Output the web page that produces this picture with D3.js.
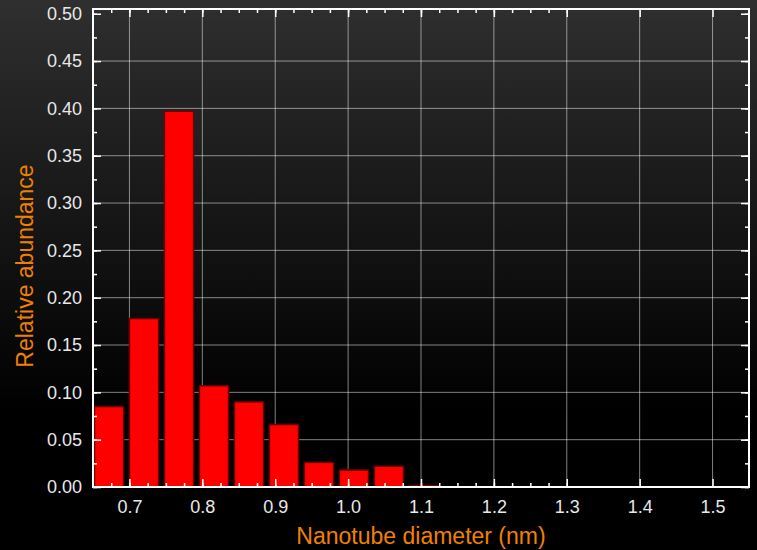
<!DOCTYPE html>
<html>
<head>
<meta charset="utf-8">
<script src="https://cdn.jsdelivr.net/npm/d3@7"></script>
<style>
  html, body { margin: 0; padding: 0; background: #000; }
  svg { display: block; }
  text { font-family: "Liberation Sans", Arial, sans-serif; }
</style>
</head>
<body>
<div id="chart"></div>
<script>
'use strict';

// bin centres (nm) and relative abundance
const diameters = [0.672, 0.720, 0.768, 0.816, 0.864, 0.912, 0.960, 1.008, 1.056, 1.104];
const abundance = [0.085, 0.178, 0.397, 0.107, 0.090, 0.066, 0.026, 0.018, 0.022, 0.0015];
const binWidth = 0.04;

const xTicks = [0.7, 0.8, 0.9, 1.0, 1.1, 1.2, 1.3, 1.4, 1.5];
const yTicks = [0, 0.05, 0.10, 0.15, 0.20, 0.25, 0.30, 0.35, 0.40, 0.45, 0.50];

const W = 757, H = 550;
const margin = { left: 93, right: 8, top: 9, bottom: 63 };
const width = W - margin.left - margin.right;
const height = H - margin.top - margin.bottom;

const svg = d3.select('#chart').append('svg')
    .attr('width', W)
    .attr('height', H);

const grad = svg.append('defs').append('linearGradient')
    .attr('id', 'bg').attr('x1', 0).attr('y1', 0).attr('x2', 0).attr('y2', 1);
grad.append('stop').attr('offset', '0%').attr('stop-color', '#2f2f2f');
grad.append('stop').attr('offset', '75%').attr('stop-color', '#000');
grad.append('stop').attr('offset', '100%').attr('stop-color', '#000');

svg.append('rect').attr('width', W).attr('height', H).attr('fill', 'url(#bg)');

const x = d3.scaleLinear().domain([0.65, 1.55]).range([0, width]);
const y = d3.scaleLinear().domain([0, 0.505]).range([height, 0]);

const g = svg.append('g').attr('transform', `translate(${margin.left},${margin.top})`);

// grid
g.append('g').selectAll('line').data(xTicks).enter().append('line')
    .attr('x1', d => x(d)).attr('x2', d => x(d))
    .attr('y1', 0).attr('y2', height)
    .attr('stroke', '#fff').attr('stroke-opacity', 0.5).attr('stroke-width', 1);
g.append('g').selectAll('line').data(yTicks.filter(d => d > 0 && d < 0.5)).enter().append('line')
    .attr('x1', 0).attr('x2', width)
    .attr('y1', d => y(d)).attr('y2', d => y(d))
    .attr('stroke', '#fff').attr('stroke-opacity', 0.5).attr('stroke-width', 1);

// bars
g.selectAll('rect.bar').data(diameters).enter().append('rect')
    .attr('class', 'bar')
    .attr('x', d => x(d - binWidth / 2))
    .attr('width', d => x(d + binWidth / 2) - x(d - binWidth / 2))
    .attr('y', (d, i) => y(abundance[i]))
    .attr('height', (d, i) => y(0) - y(abundance[i]))
    .attr('fill', '#ff0000')
    .attr('stroke', '#6a0000')
    .attr('stroke-width', 1.5);

// minor tick values
const xMinor = d3.range(26).map(i => 0.675 + i * 0.025).filter(v => v < 1.55);
const yMinor = d3.range(21).map(i => i * 0.025);

function styleAxis(sel) {
    sel.select('.domain').remove();
    sel.selectAll('.tick line').attr('stroke', '#fff').attr('stroke-width', 1.5);
    sel.selectAll('.tick text').attr('fill', '#e8e8e8').style('font-size', '18px');
}

// bottom axis
g.append('g').attr('transform', `translate(0,${height})`)
    .call(d3.axisBottom(x).tickValues(xTicks).tickFormat(d3.format('.1f')).tickSizeInner(-8).tickPadding(13))
    .call(styleAxis);
g.append('g').attr('transform', `translate(0,${height})`)
    .call(d3.axisBottom(x).tickValues(xMinor).tickFormat('').tickSizeInner(-4))
    .call(styleAxis);
// top axis
g.append('g')
    .call(d3.axisTop(x).tickValues(xTicks).tickFormat('').tickSizeInner(-8))
    .call(styleAxis);
g.append('g')
    .call(d3.axisTop(x).tickValues(xMinor).tickFormat('').tickSizeInner(-4))
    .call(styleAxis);
// left axis
g.append('g')
    .call(d3.axisLeft(y).tickValues(yTicks).tickFormat(d3.format('.2f')).tickSizeInner(-8).tickPadding(11))
    .call(styleAxis);
g.append('g')
    .call(d3.axisLeft(y).tickValues(yMinor).tickFormat('').tickSizeInner(-4))
    .call(styleAxis);
// right axis
g.append('g').attr('transform', `translate(${width},0)`)
    .call(d3.axisRight(y).tickValues(yTicks).tickFormat('').tickSizeInner(-8))
    .call(styleAxis);
g.append('g').attr('transform', `translate(${width},0)`)
    .call(d3.axisRight(y).tickValues(yMinor).tickFormat('').tickSizeInner(-4))
    .call(styleAxis);

// frame
g.append('rect')
    .attr('width', width).attr('height', height)
    .attr('fill', 'none').attr('stroke', '#fff').attr('stroke-width', 2);

// axis titles
svg.append('text')
    .attr('x', margin.left + width / 2).attr('y', 544)
    .attr('text-anchor', 'middle')
    .attr('fill', '#f08000')
    .style('font-size', '23px')
    .text('Nanotube diameter (nm)');

svg.append('text')
    .attr('transform', `translate(33,${margin.top + height / 2 + 18}) rotate(-90)`)
    .attr('text-anchor', 'middle')
    .attr('fill', '#f08000')
    .style('font-size', '23px')
    .text('Relative abundance');
</script>
</body>
</html>
